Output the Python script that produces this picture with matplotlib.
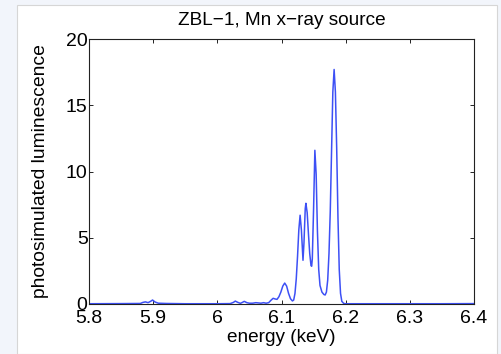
import matplotlib
matplotlib.use("Agg")
import matplotlib.pyplot as plt
from matplotlib.patches import Rectangle

energy = [5.80, 5.85, 5.88, 5.884, 5.888, 5.892, 5.896, 5.899, 5.903, 5.908, 5.92, 5.95,
          6.00, 6.02, 6.025, 6.028, 6.032, 6.036, 6.039, 6.042, 6.046, 6.050, 6.055,
          6.060, 6.064, 6.068, 6.072, 6.076, 6.080, 6.084, 6.087, 6.090, 6.093, 6.096,
          6.099, 6.102, 6.105, 6.108, 6.111, 6.114, 6.117, 6.119, 6.121, 6.123, 6.125,
          6.127, 6.129, 6.131, 6.1335, 6.135, 6.137, 6.138, 6.140, 6.142, 6.144, 6.146,
          6.147, 6.148, 6.150, 6.152, 6.154, 6.156, 6.158, 6.160, 6.163, 6.166, 6.168,
          6.170, 6.172, 6.174, 6.176, 6.178, 6.180, 6.182, 6.184, 6.186, 6.188, 6.190,
          6.192, 6.194, 6.197, 6.20, 6.25, 6.30, 6.35, 6.40]
lum = [0.02, 0.03, 0.04, 0.12, 0.16, 0.10, 0.20, 0.30, 0.15, 0.06, 0.04, 0.02,
       0.02, 0.03, 0.12, 0.22, 0.12, 0.05, 0.12, 0.20, 0.10, 0.06, 0.06,
       0.10, 0.08, 0.06, 0.10, 0.06, 0.10, 0.30, 0.43, 0.38, 0.35, 0.55,
       0.90, 1.35, 1.58, 1.35, 0.80, 0.40, 0.23, 0.30, 0.80, 1.90, 3.60,
       5.60, 6.70, 5.60, 3.30, 4.60, 7.20, 7.60, 6.90, 5.30, 3.80, 2.90,
       2.85, 3.40, 7.20, 11.60, 9.80, 5.50, 2.60, 1.40, 0.90, 0.72, 0.68,
       0.90, 1.80, 3.80, 7.00, 11.5, 16.0, 17.70, 16.0, 11.8, 6.5, 2.6,
       0.8, 0.2, 0.04, 0.02, 0.02, 0.02, 0.02, 0.03]

xticks = [5.8, 5.9, 6.0, 6.1, 6.2, 6.3, 6.4]
xticklabels = ["5.8", "5.9", "6", "6.1", "6.2", "6.3", "6.4"]
yticks = [0, 5, 10, 15, 20]

plt.rcParams['font.family'] = ['Liberation Sans', 'DejaVu Sans']

fig = plt.figure(figsize=(5.01, 3.54), dpi=100, facecolor='#f2f5fb')
fig.patches.append(Rectangle((17/501, 0), (497-17)/501, (354-5)/354,
                             transform=fig.transFigure, facecolor='white',
                             edgecolor='#d6d6d6', linewidth=0.8, zorder=-5))
ax = fig.add_axes([89/501, 50/354, (474-89)/501, (304-39)/354])
ax.set_facecolor('white')
ax.plot(energy, lum, color='#3d50f5', linewidth=1.1)
ax.set_xlim(5.8, 6.4)
ax.set_ylim(0, 20)
ax.set_xticks(xticks)
ax.set_xticklabels(xticklabels)
ax.set_yticks(yticks)
ax.tick_params(direction='in', top=True, right=True, labelsize=14, length=3, width=0.6)
ax.tick_params(axis='x', pad=4)
ax.tick_params(axis='y', pad=1)
for s in ax.spines.values():
    s.set_linewidth(0.8)
    s.set_color('#222222')
ax.set_title("ZBL\u22121, Mn x\u2212ray source", fontsize=13.7, pad=10)
ax.set_xlabel("energy (keV)", fontsize=13.7, labelpad=2)
ax.set_ylabel("photosimulated luminescence", fontsize=13.9, labelpad=12)
fig.savefig("out.png", dpi=100, facecolor=fig.get_facecolor())
